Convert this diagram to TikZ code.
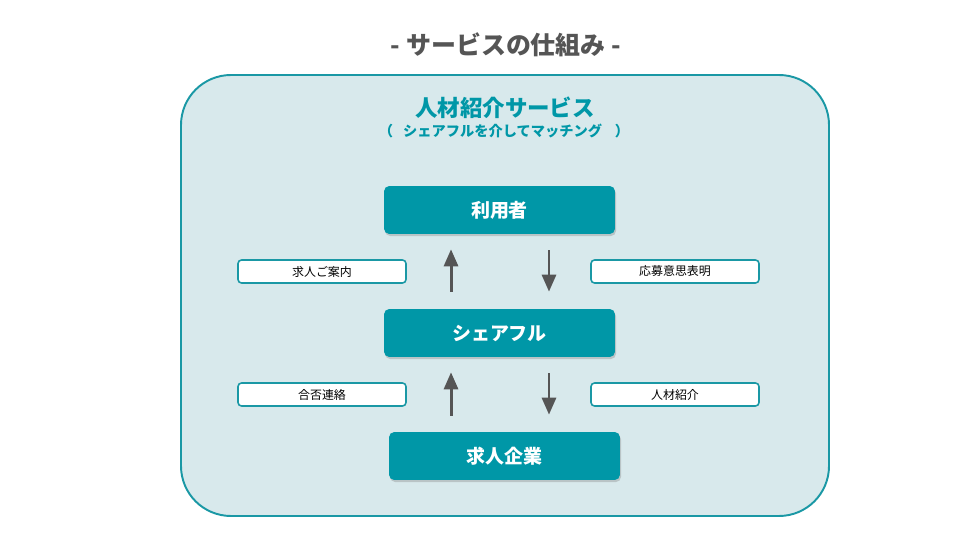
\documentclass[tikz,border=0pt]{standalone}
\usepackage{fontspec}
\setmainfont{Noto Sans CJK JP}
\usetikzlibrary{arrows.meta, positioning, shadows, calc}
\definecolor{TealMain}{HTML}{0097A7}
\definecolor{TealLine}{HTML}{1A98A5}
\definecolor{PanelBg}{HTML}{D8E9EC}
\definecolor{ArrowGray}{HTML}{555555}
\definecolor{TitleGray}{HTML}{555555}

\begin{document}
\begin{tikzpicture}[x=0.02cm, y=-0.02cm,
    actor/.style={rectangle, rounded corners=3pt, fill=TealMain, text=white,
        minimum width=4.62cm, minimum height=0.96cm, inner sep=0pt,
        font=\fontsize{10.8}{12}\selectfont\bfseries,
        drop shadow={opacity=0.35, shadow xshift=0.6pt, shadow yshift=-1.2pt}},
    tag/.style={rectangle, rounded corners=2pt, fill=white, draw=TealLine, line width=0.9pt,
        minimum width=3.36cm, minimum height=0.46cm, inner sep=0pt,
        font=\fontsize{6.8}{8}\selectfont},
    flow/.style={draw=ArrowGray, line width=1.7pt, -{Triangle[length=0.34cm, width=0.28cm]}}]
    \useasboundingbox (0,0) rectangle (960,540);

    % Title
    \node[font=\fontsize{14.2}{17}\selectfont\bfseries, text=TitleGray] (title) at (506,45) {- サービスの仕組み -};

    % Panel
    \draw[fill=PanelBg, draw=TealLine, line width=1.1pt, rounded corners=1cm] (181,75) rectangle (829,516);
    \node[font=\fontsize{12.8}{15}\selectfont\bfseries, text=TealMain] (head) at (505,108) {人材紹介サービス};
    \node[font=\fontsize{8.1}{10}\selectfont\bfseries, text=TealMain] (sub) at (504,131) {（\hspace{0.7em}シェアフルを介してマッチング\hspace{0.9em}）};

    % Actors
    \node[actor] (usr) at (499.5,210) {利用者};
    \node[actor] (share) at (499.5,333) {シェアフル};
    \node[actor] (corp) at (504.5,456) {求人企業};

    % Tags
    \node[tag] (guide) at (322,271.5) {求人ご案内};
    \node[tag] (apply) at (675,271.5) {応募意思表明};
    \node[tag] (result) at (322,394.5) {合否連絡};
    \node[tag] (intro) at (675,394.5) {人材紹介};

    % Arrows
    \draw[flow, shorten <=0.34cm, shorten >=0.3cm] ([xshift=-0.97cm]share.north) -- ([xshift=-0.97cm]usr.south);
    \draw[flow, shorten <=0.32cm, shorten >=0.34cm] ([xshift=0.99cm]usr.south) -- ([xshift=0.99cm]share.north);
    \draw[flow, shorten <=0.32cm, shorten >=0.3cm] ([xshift=-0.97cm]share.south |- corp.north) -- ([xshift=-0.97cm]share.south);
    \draw[flow, shorten <=0.32cm, shorten >=0.34cm] ([xshift=0.99cm]share.south) -- ([xshift=0.99cm]share.south |- corp.north);
\end{tikzpicture}
\end{document}
